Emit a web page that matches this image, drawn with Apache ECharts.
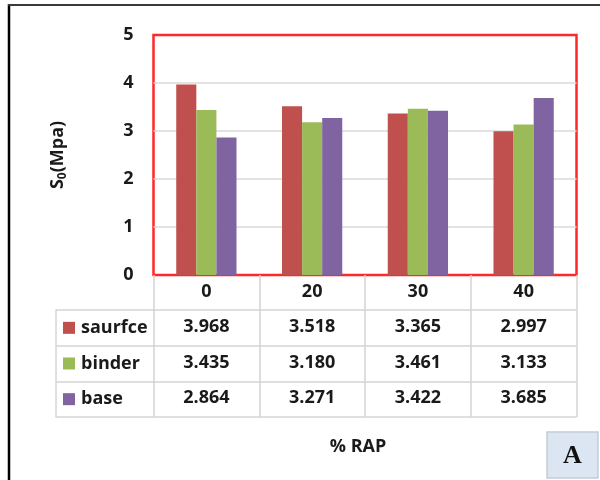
<!DOCTYPE html>
<html>
<head>
<meta charset="utf-8">
<script src="https://cdn.jsdelivr.net/npm/echarts@6/dist/echarts.min.js"></script>
<style>
html,body{margin:0;padding:0;background:#fff;}
#c{width:600px;height:480px;}
</style>
</head>
<body>
<div id="c"></div>
<script>
const categories = ['0', '20', '30', '40'];
const seriesNames = ['saurfce', 'binder', 'base'];
const saurfce = [3.968, 3.518, 3.365, 2.997];
const binder = [3.435, 3.180, 3.461, 3.133];
const base = [2.864, 3.271, 3.422, 3.685];
const yTicks = [0, 1, 2, 3, 4, 5];

const values = [saurfce, binder, base];
const colors = ['#c0504d', '#9bbb59', '#8064a2'];
const FONT = '"Open Sans", sans-serif';
const TXT = '#1a1a1a';
const TABLE_LINE = '#d4d4d4';

const chart = echarts.init(document.getElementById('c'), null, {renderer: 'canvas'});

const rowOffsets = [35, 71, 106];
const xAxes = [{
  type: 'category', gridIndex: 0, data: categories, position: 'bottom',
  axisLine: {show: false},
  axisTick: {show: true, length: 142, lineStyle: {color: TABLE_LINE, width: 1.5}},
  axisLabel: {margin: 8, fontFamily: FONT, fontWeight: 'bold', fontSize: 18, color: TXT}
}];
values.forEach((arr, k) => {
  xAxes.push({
    type: 'category', gridIndex: 0, data: categories, position: 'bottom', offset: rowOffsets[k],
    axisLine: {show: false}, axisTick: {show: false},
    axisLabel: {margin: 8, fontFamily: FONT, fontWeight: 'bold', fontSize: 18, color: TXT,
      formatter: (v, i) => arr[i].toFixed(3)}
  });
});
xAxes.push({
  type: 'value', gridIndex: 1, min: 0, max: 1, show: true,
  axisLine: {show: false}, axisTick: {show: false}, axisLabel: {show: false}, splitLine: {show: false}
});

const rich = {t: {fontFamily: FONT, fontWeight: 'bold', fontSize: 18, color: TXT, padding: [0, 0, 0, 6]}};
colors.forEach((c, i) => { rich['k' + i] = {width: 12, height: 12, backgroundColor: c}; });

const option = {
  animation: false,
  backgroundColor: '#fff',
  title: {
    text: '% RAP', left: 353, top: 433, textAlign: 'center',
    textStyle: {fontFamily: FONT, fontWeight: 'bold', fontSize: 18, color: TXT}
  },
  grid: [
    {left: 153.5, right: 23.5, top: 35, height: 240, show: true, borderColor: '#ff2828', borderWidth: 2.5, containLabel: false},
    {left: 56, right: 23.5, top: 310, height: 107, containLabel: false}
  ],
  xAxis: xAxes,
  yAxis: [{
    type: 'value', gridIndex: 0, min: yTicks[0], max: yTicks[yTicks.length - 1], interval: 1,
    name: '{a|S}{b|0}{a|(Mpa)}', nameLocation: 'middle', nameGap: 85, nameRotate: 90,
    nameTextStyle: {rich: {
      a: {fontFamily: FONT, fontWeight: 'bold', fontSize: 18, color: TXT, lineHeight: 22},
      b: {fontFamily: FONT, fontWeight: 'bold', fontSize: 12, color: TXT, lineHeight: 22, verticalAlign: 'bottom', padding: [9, 0, 0, 0]}
    }},
    axisLine: {show: false}, axisTick: {show: false},
    axisLabel: {margin: 20, fontFamily: FONT, fontWeight: 'bold', fontSize: 18, color: TXT},
    splitLine: {show: true, showMinLine: false, showMaxLine: false, lineStyle: {color: '#dadada', width: 1.5}}
  }, {
    type: 'category', gridIndex: 1, data: seriesNames, inverse: true,
    axisLine: {show: true, lineStyle: {color: TABLE_LINE, width: 1.5}},
    axisTick: {show: false},
    axisLabel: {inside: true, margin: 7, formatter: (v, i) => '{k' + i + '| }{t|' + v + '}', rich: rich},
    splitLine: {show: true, lineStyle: {color: TABLE_LINE, width: 1.5}}
  }],
  series: values.map((arr, k) => ({
    name: seriesNames[k], type: 'bar', xAxisIndex: 0, yAxisIndex: 0,
    data: arr, barGap: '0%', barCategoryGap: '43%',
    itemStyle: {color: colors[k]}
  })),
  graphic: [
    {type: 'line', shape: {x1: 9, y1: 4, x2: 9, y2: 480}, style: {stroke: '#000', lineWidth: 2.5}},
    {type: 'line', shape: {x1: 8, y1: 5, x2: 600, y2: 5}, style: {stroke: '#3a3a3a', lineWidth: 2}},
    {type: 'rect', shape: {x: 547, y: 432, width: 51, height: 46}, style: {fill: '#dce6f2', stroke: '#c3ccd6', lineWidth: 1.5}},
    {type: 'text', x: 572.5, y: 456, style: {text: 'A', fontFamily: '"Liberation Serif", serif', fontWeight: 'bold', fontSize: 26, fill: '#111', align: 'center', verticalAlign: 'middle'}}
  ]
};
chart.setOption(option);
</script>
</body>
</html>
